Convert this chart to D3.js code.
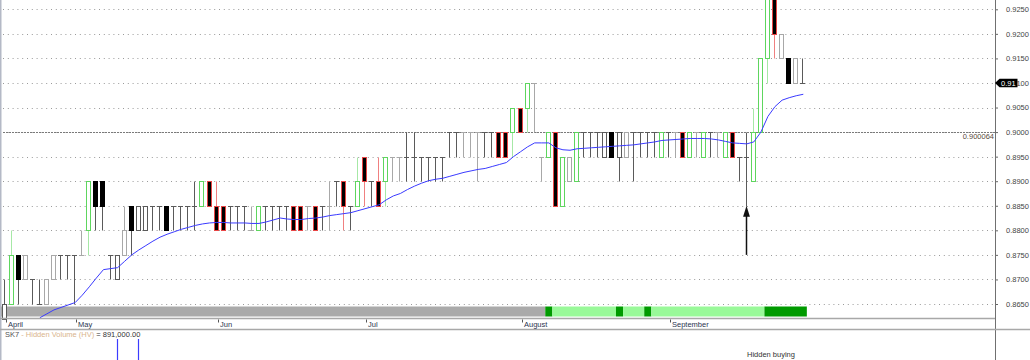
<!DOCTYPE html>
<html>
<head>
<meta charset="utf-8">
<script src="https://cdn.jsdelivr.net/npm/d3@7"></script>
<style>
  body { margin: 0; background: #fff; }
  svg { display: block; }
  text { font-family: "Liberation Sans", Arial, sans-serif; }
</style>
</head>
<body>
<svg id="chart" width="1030" height="360"></svg>
<script>
// price levels on the right axis
const priceTicks = [0.925, 0.92, 0.915, 0.91, 0.905, 0.9, 0.895, 0.89, 0.885, 0.88, 0.875, 0.87, 0.865]
const refLevel = 0.900064
const lastPrice = 0.91

const months = ['April', 'May', 'Jun', 'Jul', 'August', 'September']
const monthStart = [0, 10, 30, 51, 73, 94]

// daily bars
const opens = [
  .862, .865, .875, .870, .870, .865, .865, .870, .875, .875,
  .875, .875, .880, .890, .890, .875, .870, .875, .885, .880,
  .880, .885, .885, .885, .885, .885, .885, .885, .885, .890,
  .885, .885, .885, .885, .885, .880, .880, .885, .885, .885,
  .885, .885, .885, .885, .885, .885, .885, .890, .890, .885,
  .885, .895, .890, .890, .890, .895, .895, .895, .895, .895,
  .895, .895, .895, .900, .900, .900, .900, .900, .900, .900,
  .900, .900, .900, .905, .905, .910, .895, .895, .900, .885,
  .890, .890, .900, .900, .900, .895, .900, .895, .895, .900,
  .900, .900, .900, .895, .900, .900, .900, .895, .900, .895,
  .900, .900, .895, .900, .895, .895, .890, .900, .915, .9275,
  .915, .915, .910, .910
]
const highs = [
  .870, .880, .875, .875, .870, .870, .870, .875, .875, .875,
  .875, .880, .890, .890, .890, .875, .875, .885, .885, .885,
  .885, .885, .885, .885, .885, .885, .885, .890, .890, .890,
  .890, .885, .885, .885, .885, .885, .885, .885, .885, .885,
  .885, .885, .885, .885, .885, .885, .890, .890, .890, .885,
  .895, .895, .890, .895, .895, .895, .895, .900, .900, .895,
  .895, .895, .895, .900, .900, .900, .900, .900, .900, .900,
  .900, .900, .905, .905, .910, .910, .895, .900, .900, .895,
  .895, .900, .900, .900, .900, .900, .900, .900, .900, .900,
  .900, .900, .900, .900, .900, .900, .900, .900, .900, .900,
  .900, .900, .900, .900, .895, .900, .905, .915, .9275, .9275,
  .920, .915, .915, .915
]
const lows = [
  .862, .865, .865, .870, .865, .865, .865, .870, .870, .870,
  .865, .875, .875, .880, .880, .870, .870, .875, .875, .880,
  .880, .880, .880, .880, .880, .880, .880, .880, .885, .885,
  .880, .880, .880, .880, .880, .880, .880, .880, .880, .880,
  .880, .880, .880, .880, .880, .880, .880, .885, .880, .880,
  .885, .885, .885, .885, .885, .890, .890, .890, .890, .890,
  .890, .890, .890, .895, .895, .895, .895, .890, .895, .895,
  .895, .895, .895, .900, .900, .900, .890, .895, .885, .885,
  .890, .890, .895, .895, .895, .895, .895, .890, .895, .890,
  .895, .895, .895, .895, .895, .895, .895, .895, .895, .895,
  .895, .895, .895, .895, .890, .885, .890, .900, .910, .915,
  .915, .910, .910, .910
]
const closes = [
  .865, .875, .870, .875, .870, .865, .870, .875, .875, .875,
  .875, .875, .890, .885, .885, .875, .875, .880, .880, .885,
  .885, .885, .885, .880, .885, .885, .885, .885, .890, .885,
  .880, .880, .885, .885, .885, .880, .885, .885, .885, .885,
  .885, .880, .880, .885, .880, .885, .885, .890, .885, .885,
  .890, .890, .890, .885, .895, .895, .895, .895, .895, .895,
  .895, .895, .895, .900, .900, .900, .900, .900, .900, .900,
  .895, .895, .905, .900, .910, .910, .895, .900, .885, .895,
  .895, .900, .900, .900, .900, .900, .895, .900, .900, .900,
  .900, .900, .900, .900, .900, .900, .895, .900, .900, .900,
  .900, .900, .900, .895, .895, .895, .900, .915, .9275, .920,
  .920, .910, .915, .910
]
// k dark hollow, l light hollow, b black, r black with red edge, g green hollow
const styles = ('kgblkkllkk' + 'klgbbkklbk' + 'kkkbkkkkgr' + 'rrkkklgkkk' + 'krrlrklkrk' +
  'grkrgllkkk' + 'kkkkklllkk' + 'rrgrgllgrg' + 'lgkkkkbklk' + 'kkkgklrglg' +
  'klgrkkgggr' + 'lblk').split('')

// moving average, starts at bar 5
const maStart = 5
const maValues = [
  .8622, .8630, .8638, .8643, .8648, .8653, .8668, .8685, .8703, .8720,
  .8722, .8724, .8737, .8750, .8760, .8769, .8778, .8786, .8792, .8797,
  .8802, .8806, .8810, .8813, .8815, .8816, .8816, .8815, .8815, .8815,
  .8814, .8814, .8817, .8821, .8825, .8823, .8822, .8822, .8824, .8825,
  .8827, .8830, .8832, .8834, .8836, .8840, .8844, .8848, .8852, .8862,
  .8870, .8875, .8883, .8890, .8896, .8901, .8904, .8906, .8910, .8914,
  .8918, .8921, .8924, .8926, .8930, .8934, .8938, .8950, .8960, .8970,
  .8978, .8978, .8978, .8968, .8964, .8963, .8966, .8967, .8968, .8969,
  .8970, .8971, .8972, .8973, .8974, .8976, .8978, .8980, .8983, .8984,
  .8985, .8986, .8987, .8987, .8987, .8986, .8984, .8981, .8978, .8977,
  .8976, .8980, .9000, .9032, .9052, .9065, .9070, .9074, .9077
]

// state strip under the bars: 0 neutral, 1 light green, 2 dark green
const stripRuns = [
  { from: 0, to: 76, state: 0 },
  { from: 77, to: 77, state: 2 },
  { from: 78, to: 86, state: 1 },
  { from: 87, to: 87, state: 2 },
  { from: 88, to: 90, state: 1 },
  { from: 91, to: 91, state: 2 },
  { from: 92, to: 107, state: 1 },
  { from: 108, to: 113, state: 2 }
]

const hiddenVolume = [
  { i: 16, v: 1200000 },
  { i: 19, v: 1200000 }
]
const arrowMark = { i: 105, from: 0.875, to: 0.885 }

const svg = d3.select('#chart')
const axisX = 995

const x = d3.scaleLinear().domain([0, opens.length - 1]).range([4.5, 803.3])
const y = d3.scaleLinear().domain([0.865, 0.925]).range([304, 9.3])
const hvY = d3.scaleLinear().domain([0, 1200000]).range([480, 339])

const px = i => Math.round(x(i))
const py = p => Math.round(y(p)) + 0.5

const palette = {
    k: { stroke: '#5a5a5a', fill: '#fff', wick: '#5a5a5a' },
    l: { stroke: '#a8a8a8', fill: '#fff', wick: '#a8a8a8' },
    b: { stroke: '#000', fill: '#000', wick: '#5a5a5a' },
    r: { stroke: '#e84545', fill: '#000', wick: '#f08080' },
    g: { stroke: '#5ed65e', fill: '#fff', wick: '#a6e8a6' }
}
const stripColors = ['#aaaaaa', '#99f999', '#009a00']

// left border
svg.append('line')
    .attr('x1', 0.75).attr('x2', 0.75).attr('y1', 0).attr('y2', 360)
    .attr('stroke', '#b4b9c6').attr('stroke-width', 1.5)

// grid
svg.append('g').selectAll('line').data(priceTicks).join('line')
    .attr('x1', 3).attr('x2', axisX)
    .attr('y1', d => py(d)).attr('y2', d => py(d))
    .attr('stroke', '#9a9a9a')
    .attr('stroke-dasharray', '1,3.8')

svg.append('line')
    .attr('x1', 3).attr('x2', axisX)
    .attr('y1', py(refLevel)).attr('y2', py(refLevel))
    .attr('stroke', '#7a7a7a')
    .attr('stroke-dasharray', '2,1')
svg.append('text')
    .attr('x', axisX - 1).attr('y', py(refLevel) + 6.5)
    .attr('text-anchor', 'end')
    .attr('font-size', 7.5).attr('fill', '#5a4a3a')
    .text(d3.format('.6f')(refLevel))

// strip
svg.append('g').selectAll('rect').data(stripRuns).join('rect')
    .attr('x', d => x(d.from - 0.5))
    .attr('width', d => x(d.to + 0.5) - x(d.from - 0.5))
    .attr('y', 306.5).attr('height', 10)
    .attr('fill', d => stripColors[d.state])

// bars
const candles = opens.map((o, i) => ({ i, o, h: highs[i], l: lows[i], c: closes[i], s: styles[i] }))
const cg = svg.append('g').selectAll('g').data(candles).join('g')

cg.append('line')
    .attr('x1', d => px(d.i) - 0.5).attr('x2', d => px(d.i) - 0.5)
    .attr('y1', d => py(d.h)).attr('y2', d => py(d.l))
    .attr('stroke', d => palette[d.s].wick)

cg.filter(d => d.o !== d.c).append('rect')
    .attr('x', d => px(d.i) - 2.5)
    .attr('width', 4)
    .attr('y', d => py(Math.max(d.o, d.c)))
    .attr('height', d => py(Math.min(d.o, d.c)) - py(Math.max(d.o, d.c)))
    .attr('fill', d => palette[d.s].fill)
    .attr('stroke', d => palette[d.s].stroke)

cg.filter(d => d.o === d.c).append('line')
    .attr('x1', d => px(d.i) - 3).attr('x2', d => px(d.i) + 2)
    .attr('y1', d => py(d.o)).attr('y2', d => py(d.o))
    .attr('stroke', d => palette[d.s].stroke)

// moving average
const maLine = d3.line()
    .x((d, k) => x(maStart + k))
    .y(d => y(d))
svg.append('path')
    .datum(maValues)
    .attr('d', maLine)
    .attr('fill', 'none')
    .attr('stroke', '#3a3aff')
    .attr('stroke-width', 1)

// arrow under the test bar
const ax = px(arrowMark.i) - 0.5
const tipY = y(arrowMark.to)
svg.append('line')
    .attr('x1', ax).attr('x2', ax)
    .attr('y1', y(arrowMark.from)).attr('y2', tipY + 10)
    .attr('stroke', '#111').attr('stroke-width', 1.5)
svg.append('path')
    .attr('d', `M ${ax} ${tipY} L ${ax - 3.4} ${tipY + 11} L ${ax + 3.4} ${tipY + 11} Z`)
    .attr('fill', '#111')

// right axis
const axis = d3.axisRight(y)
    .tickValues(priceTicks)
    .tickFormat(d3.format('.4f'))
    .tickSize(3)
    .tickPadding(8)
const ga = svg.append('g')
    .attr('transform', `translate(${axisX},0)`)
    .call(axis)
ga.select('.domain').remove()
ga.selectAll('line').attr('stroke', '#666')
ga.selectAll('text')
    .attr('font-size', 7.5)
    .attr('font-family', '"Liberation Sans", Arial, sans-serif')
    .attr('fill', '#444')

svg.append('line')
    .attr('x1', axisX + 0.5).attr('x2', axisX + 0.5)
    .attr('y1', 0).attr('y2', 360)
    .attr('stroke', '#707070')

// last price tag
const ly = y(lastPrice)
svg.append('path')
    .attr('d', `M ${axisX} ${ly} L ${axisX + 4.5} ${ly - 4.3} L ${axisX + 22.5} ${ly - 4.3} L ${axisX + 22.5} ${ly + 4.3} L ${axisX + 4.5} ${ly + 4.3} Z`)
    .attr('fill', '#000')
svg.append('text')
    .attr('x', axisX + 6).attr('y', ly + 2.7)
    .attr('font-size', 7.5).attr('fill', '#fff')
    .text(d3.format('.2f')(lastPrice))

// time axis band
svg.append('line')
    .attr('x1', 0).attr('x2', axisX).attr('y1', 318.5).attr('y2', 318.5)
    .attr('stroke', '#a8a8a8').attr('stroke-width', 1.5)
svg.append('line')
    .attr('x1', 0).attr('x2', 1030).attr('y1', 329.5).attr('y2', 329.5)
    .attr('stroke', '#a8a8a8').attr('stroke-width', 1.5)

const gm = svg.append('g').selectAll('g').data(months).join('g')
    .attr('transform', (d, k) => `translate(${px(monthStart[k]) + 1.5},0)`)
gm.append('line')
    .attr('y1', 319.5).attr('y2', 322.5)
    .attr('stroke', '#555')
gm.append('text')
    .attr('x', 1.5).attr('y', 326.5)
    .attr('font-size', 7.5).attr('fill', '#2b3550')
    .text(d => d)

// hidden volume panel
const title = svg.append('text')
    .attr('x', 5).attr('y', 337)
    .attr('font-size', 7.5)
title.append('tspan').attr('fill', '#555').text('SK7')
title.append('tspan').attr('fill', '#d9b48c').text(' - Hidden Volume (HV)')
title.append('tspan').attr('fill', '#333').text(' = ' + d3.format(',.2f')(891000))

svg.append('g').selectAll('line').data(hiddenVolume).join('line')
    .attr('x1', d => px(d.i) - 0.5).attr('x2', d => px(d.i) - 0.5)
    .attr('y1', d => hvY(d.v)).attr('y2', 360)
    .attr('stroke', '#3c3cff').attr('stroke-width', 1.2)

svg.append('text')
    .attr('x', 747).attr('y', 356.5)
    .attr('font-size', 7.5).attr('fill', '#333')
    .text('Hidden buying')
</script>
</body>
</html>
